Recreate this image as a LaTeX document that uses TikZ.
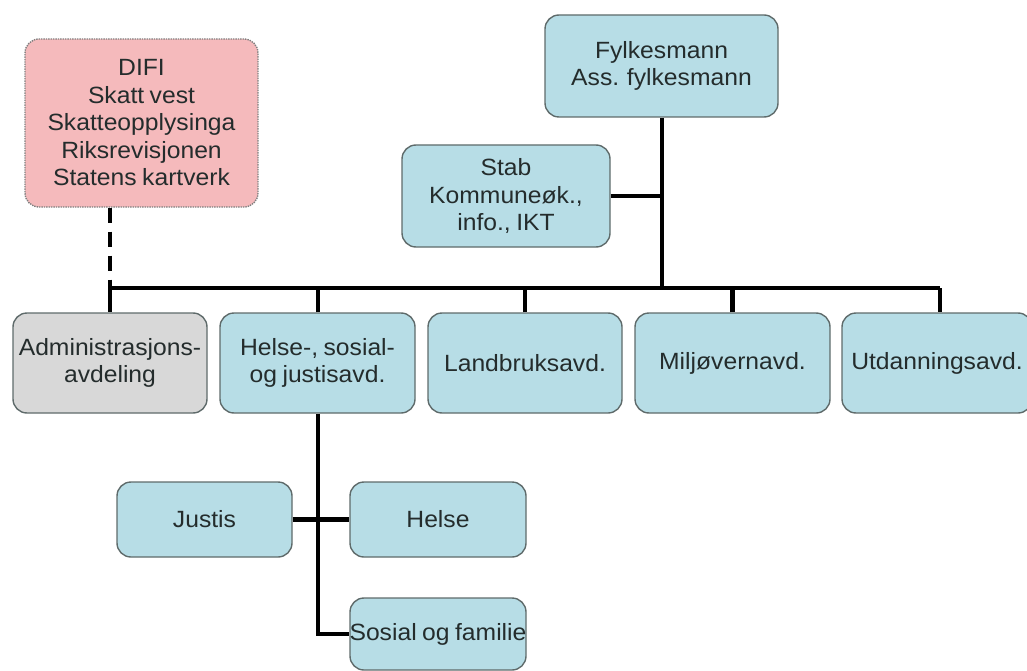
\documentclass[tikz,border=0pt]{standalone}
\usepackage{fontspec}
\setmainfont{Liberation Sans}[FakeStretch=1.05,WordSpace=0.8]
\begin{document}
\begin{tikzpicture}[x=1pt,y=-1pt,
  box/.style={draw=boxline, line width=1.4pt, rounded corners=14pt, fill=aqua,
    align=center, text=txt, font=\fontsize{23.5}{27.5}\selectfont, inner sep=0pt},
  conn/.style={line width=4.2pt, black},
]
\definecolor{aqua}{HTML}{B7DDE6}
\definecolor{pinkbox}{HTML}{F5BABC}
\definecolor{greybox}{HTML}{D8D8D8}
\definecolor{boxline}{HTML}{5F6B6B}
\definecolor{txt}{HTML}{242C2C}
\useasboundingbox (0,0) rectangle (1027,671);
\begin{scope}
\clip (0,0) rectangle (1027,671);
\node[box, fill=pinkbox, draw=gray, densely dotted, minimum width=233pt, minimum height=168pt] (difi) at (141.5,123)
  {DIFI\\Skatt vest\\Skatteopplysinga\\Riksrevisjonen\\Statens kartverk};
\node[box, minimum width=233pt, minimum height=102pt] (fylk) at (661.5,66) {Fylkesmann\\Ass. fylkesmann};
\node[box, minimum width=208pt, minimum height=102pt] (stab) at (506,196) {Stab\\Kommuneøk.,\\info., IKT};
\node[box, fill=greybox, minimum width=194pt, minimum height=100pt] (admin) at (110,363) {\makebox[0pt]{Administrasjons-}\\avdeling};
\node[box, minimum width=195pt, minimum height=100pt] (helse) at (317.5,363) {Helse-, sosial-\\og justisavd.};
\node[box, minimum width=194pt, minimum height=100pt] (land) at (525,363) {Landbruksavd.};
\node[box, minimum width=195pt, minimum height=100pt] (miljo) at (732.5,363) {Miljøvernavd.};
\node[box, minimum width=190pt, minimum height=100pt] (utd) at (937,363) {\makebox[0pt]{Utdanningsavd.}};
\node[box, minimum width=175pt, minimum height=75pt] (justis) at (204.5,519.5) {Justis};
\node[box, minimum width=176pt, minimum height=75pt] (helse2) at (438,519.5) {Helse};
\node[box, minimum width=176pt, minimum height=72pt] (sosial) at (438,634) {\makebox[0pt]{Sosial og familie}};

\coordinate (barL) at (110,288);
\coordinate (barR) at (940,288);
\coordinate (fylkJ) at (662,288);
\coordinate (stabJ) at (662,196);
\coordinate (sosJ) at (318,634);

\draw[conn, dash pattern=on 15pt off 9pt] (difi.south -| barL) -- (barL);
\draw[conn] (barL) -- (barR);
\draw[conn] (fylk.south -| fylkJ) -- (fylkJ);
\draw[conn] (stab.east) -- (stabJ);
\draw[conn] (barL) -- (admin.north -| barL);
\draw[conn] (helse.north -| sosJ) -- (sosJ |- barL);
\draw[conn] (land.north) -- (land.north |- barL);
\draw[conn] (miljo.north) -- (miljo.north |- barL);
\draw[conn] (barR) -- (utd.north -| barR);
\draw[conn] (helse.south -| sosJ) -- (sosJ) -- (sosial.west);
\draw[conn] (justis.east) -- (helse2.west);
\end{scope}
\end{tikzpicture}
\end{document}
